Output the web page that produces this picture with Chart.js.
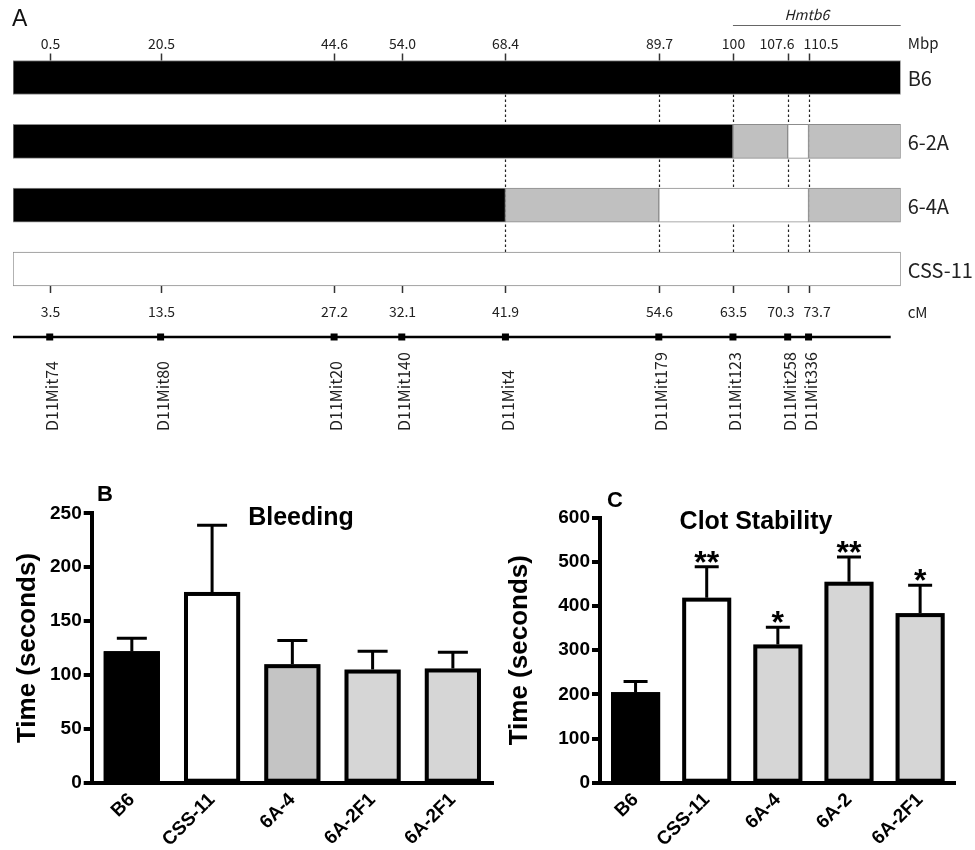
<!DOCTYPE html>
<html lang="en">
<head>
<meta charset="UTF-8">
<title>Hmtb6 congenic mapping - bleeding and clot stability</title>
<script src="https://cdn.jsdelivr.net/npm/chart.js"></script>
<style>
    * { margin: 0; padding: 0; box-sizing: border-box; }
    body { background: #fff; width: 975px; height: 850px; position: relative; overflow: hidden; }
    canvas { position: absolute; }
    #mapChart { left: 0; top: 0; }
    #bleedChart { left: 0; top: 460px; }
    #clotChart { left: 490px; top: 460px; }
</style>
</head>
<body>
<canvas id="mapChart" width="975" height="445"></canvas>
<canvas id="bleedChart" width="500" height="390"></canvas>
<canvas id="clotChart" width="485" height="390"></canvas>

<script>
// ---- Panel A: congenic strains along chromosome 11 ----
const strains = ['B6', '6-2A', '6-4A', 'CSS-11'];
const chrLength = 123.3;   // Mbp, right end of the drawn chromosome
// breakpoints (Mbp) and origin of each segment: B = B6, A = A/J, H = crossover interval
const breaksB6 = [0, 123.3];
const originB6 = ['B'];
const breaks62A = [0, 100, 107.6, 110.5, 123.3];
const origin62A = ['B', 'H', 'A', 'H'];
const breaks64A = [0, 68.4, 89.7, 110.5, 123.3];
const origin64A = ['B', 'H', 'A', 'H'];
const breaksCSS = [0, 123.3];
const originCSS = ['A'];

const markers = ['D11Mit74', 'D11Mit80', 'D11Mit20', 'D11Mit140', 'D11Mit4', 'D11Mit179', 'D11Mit123', 'D11Mit258', 'D11Mit336'];
const mbpLabels = ['0.5', '20.5', '44.6', '54.0', '68.4', '89.7', '100', '107.6', '110.5'];
const cmLabels = ['3.5', '13.5', '27.2', '32.1', '41.9', '54.6', '63.5', '70.3', '73.7'];
// where each marker sits on the drawn Mbp axis (the 0.5 marker is pulled in from the end in the figure)
const markerMbp = [5.1, 20.5, 44.6, 54.0, 68.4, 89.7, 100, 107.6, 110.5];
const dottedFrom = 4;      // D11Mit4 onwards get dotted guide lines
const hmtb6Start = 100;

// ---- Panel B: bleeding ----
const bleedGroups = ['B6', 'CSS-11', '6A-4', '6A-2F1', '6A-2F1'];
const bleedMean = [122, 177, 110, 105, 106];
const bleedUpper = [134, 239, 132, 122, 121];
const bleedTicks = [0, 50, 100, 150, 200, 250];

// ---- Panel C: clot stability ----
const clotGroups = ['B6', 'CSS-11', '6A-4', '6A-2', '6A-2F1'];
const clotMean = [205, 419, 313, 455, 384];
const clotUpper = [229, 489, 352, 511, 447];
const clotTicks = [0, 100, 200, 300, 400, 500, 600];
const clotStars = ['', '**', '*', '**', '*'];

const mapFont = '"Noto Sans CJK JP", "Noto Sans", sans-serif';
const prismFont = '"Liberation Sans", Arial, sans-serif';

// floating bar segments, one dataset per segment slot
const fillFor = { B: '#000000', H: '#c0c0c0', A: '#ffffff' };
const rows = [[breaksB6, originB6], [breaks62A, origin62A], [breaks64A, origin64A], [breaksCSS, originCSS]];
const nSeg = Math.max(...rows.map(r => r[1].length));
const mapDatasets = [];
for (let k = 0; k < nSeg; k++) {
    mapDatasets.push({
        data: rows.map(([br, or]) => k < or.length ? [br[k], br[k + 1]] : null),
        backgroundColor: rows.map(([br, or]) => k < or.length ? fillFor[or[k]] : 'transparent'),
        borderColor: '#8c8c8c',
        borderWidth: 1,
        borderSkipped: false,
        barThickness: 34,
        grouped: false
    });
}

const BAR_HALF = 17;

// spread centred labels that would collide
function spreadLabels(ctx, texts, centers, gap) {
    const c = centers.slice();
    const w = texts.map(t => ctx.measureText(t).width);
    for (let i = 1; i < c.length; i++) {
        const overlap = (c[i - 1] + w[i - 1] / 2 + gap) - (c[i] - w[i] / 2);
        if (overlap > 0) {
            c[i - 1] -= overlap / 2;
            c[i] += overlap / 2;
        }
    }
    return c;
}

const mapDecor = {
    id: 'mapDecor',
    beforeDatasetsDraw(chart) {
        const { ctx } = chart;
        const xs = chart.scales.x, ys = chart.scales.y;
        const top = ys.getPixelForValue(0) + BAR_HALF;
        const bottom = ys.getPixelForValue(strains.length - 1) - BAR_HALF;
        ctx.save();
        ctx.strokeStyle = '#222';
        ctx.lineWidth = 1.2;
        ctx.setLineDash([2.5, 2.5]);
        markerMbp.slice(dottedFrom).forEach(v => {
            const px = Math.round(xs.getPixelForValue(v)) + 0.5;
            ctx.beginPath();
            ctx.moveTo(px, top);
            ctx.lineTo(px, bottom);
            ctx.stroke();
        });
        ctx.restore();
    },
    afterDatasetsDraw(chart) {
        const { ctx, chartArea } = chart;
        const xs = chart.scales.x, ys = chart.scales.y;
        const yTop = ys.getPixelForValue(0) - BAR_HALF;
        const yBot = ys.getPixelForValue(strains.length - 1) + BAR_HALF;
        const labelX = chartArea.right + 7;
        const tickX = markerMbp.map(v => Math.round(xs.getPixelForValue(v)) + 0.5);
        ctx.save();
        ctx.fillStyle = '#222';
        ctx.strokeStyle = '#333';
        ctx.lineWidth = 1.5;

        // Mbp (top) and cM (bottom) ticks and labels
        ctx.font = '14px ' + mapFont;
        ctx.textAlign = 'center';
        ctx.textBaseline = 'middle';
        const mbpX = spreadLabels(ctx, mbpLabels, tickX, 9);
        const cmX = spreadLabels(ctx, cmLabels, tickX, 9);
        tickX.forEach((px, i) => {
            ctx.beginPath(); ctx.moveTo(px, yTop - 7); ctx.lineTo(px, yTop); ctx.stroke();
            ctx.fillText(mbpLabels[i], mbpX[i], yTop - 17);
            ctx.beginPath(); ctx.moveTo(px, yBot); ctx.lineTo(px, yBot + 7); ctx.stroke();
            ctx.fillText(cmLabels[i], cmX[i], yBot + 26);
        });
        ctx.textAlign = 'left';
        ctx.font = '15px ' + mapFont;
        ctx.fillText('Mbp', labelX, yTop - 17);
        ctx.fillText('cM', labelX, yBot + 26);

        // Hmtb6 interval
        const hx = xs.getPixelForValue(hmtb6Start);
        ctx.lineWidth = 1;
        ctx.strokeStyle = '#666';
        ctx.beginPath(); ctx.moveTo(hx, yTop - 35); ctx.lineTo(chartArea.right, yTop - 35); ctx.stroke();
        ctx.font = 'italic 14px ' + mapFont;
        ctx.textAlign = 'center';
        ctx.fillText('Hmtb6', (hx + chartArea.right) / 2 - 10, yTop - 46);

        // strain names
        ctx.font = '20px ' + mapFont;
        ctx.textAlign = 'left';
        strains.forEach((s, i) => ctx.fillText(s, labelX, ys.getPixelForValue(i) + 1));

        // chromosome line with markers
        const lineY = yBot + 51;
        ctx.strokeStyle = '#000';
        ctx.lineWidth = 2.5;
        ctx.beginPath(); ctx.moveTo(chartArea.left, lineY); ctx.lineTo(chartArea.right - 10, lineY); ctx.stroke();
        ctx.fillStyle = '#000';
        markerMbp.forEach(v => {
            const px = xs.getPixelForValue(v);
            ctx.fillRect(px - 3.5, lineY - 3.5, 7, 7);
        });

        // marker names, reading upwards
        ctx.fillStyle = '#222';
        ctx.font = '16px ' + mapFont;
        ctx.textAlign = 'left';
        ctx.textBaseline = 'middle';
        markerMbp.forEach((v, i) => {
            ctx.save();
            ctx.translate(xs.getPixelForValue(v) + 2, yBot + 145);
            ctx.rotate(-Math.PI / 2);
            ctx.fillText(markers[i], 0, 0);
            ctx.restore();
        });

        // panel letter
        ctx.fillStyle = '#111';
        ctx.font = '23px "Liberation Sans", Arial, sans-serif';
        ctx.fillText('A', 12, 20);
        ctx.restore();
    }
};

new Chart(document.getElementById('mapChart'), {
    type: 'bar',
    data: { labels: strains, datasets: mapDatasets },
    options: {
        indexAxis: 'y',
        responsive: false,
        animation: false,
        layout: { padding: { left: 13, right: 74.3, top: 45.6, bottom: 144.1 } },
        scales: {
            x: { type: 'linear', min: 0, max: chrLength, display: false },
            y: { type: 'category', display: false, offset: true }
        },
        plugins: { legend: { display: false }, tooltip: { enabled: false } }
    },
    plugins: [mapDecor]
});

// bar outlines, error bars, significance stars, title and panel letter
const barExtras = {
    id: 'barExtras',
    afterDatasetsDraw(chart, args, opts) {
        const { ctx } = chart;
        const ys = chart.scales.y;
        ctx.save();
        ctx.strokeStyle = '#000';
        ctx.fillStyle = '#000';
        chart.getDatasetMeta(0).data.forEach((bar, i) => {
            const { x, y, base, width } = bar.getProps(['x', 'y', 'base', 'width'], true);
            ctx.lineWidth = 4;
            ctx.strokeRect(x - width / 2 + 2, y + 2, width - 4, base - y - 2);

            const top = ys.getPixelForValue(opts.upper[i]);
            ctx.lineWidth = 3;
            ctx.beginPath();
            ctx.moveTo(x, y);
            ctx.lineTo(x, top);
            ctx.moveTo(x - opts.cap / 2, top);
            ctx.lineTo(x + opts.cap / 2, top);
            ctx.stroke();
            if (opts.stars && opts.stars[i]) {
                ctx.font = 'bold 32px ' + prismFont;
                ctx.textAlign = 'center';
                ctx.textBaseline = 'alphabetic';
                ctx.fillText(opts.stars[i], x, top + 6);
            }
        });
        ctx.textAlign = 'center';
        ctx.textBaseline = 'middle';
        ctx.font = 'bold 25px ' + prismFont;
        ctx.fillText(opts.title, opts.titleX, opts.titleY);
        ctx.font = 'bold 22px ' + prismFont;
        ctx.fillText(opts.letter, opts.letterX, opts.letterY);
        ctx.restore();
    }
};

function makePanel(id, cfg) {
    return new Chart(document.getElementById(id), {
        type: 'bar',
        data: {
            labels: cfg.groups,
            datasets: [{
                data: cfg.means,
                backgroundColor: cfg.colors,
                borderWidth: 0,
                categoryPercentage: 1,
                barPercentage: cfg.barPct
            }]
        },
        options: {
            responsive: false,
            animation: false,
            layout: { autoPadding: false, padding: { left: 0, right: cfg.padRight, top: cfg.padTop, bottom: 0 } },
            scales: {
                x: {
                    grid: { display: false, drawTicks: false },
                    border: { display: true, color: '#000', width: 4, z: 1 },
                    ticks: {
                        color: '#000', font: { family: prismFont, size: 19, weight: 'bold' },
                        maxRotation: 45, minRotation: 45, padding: 6
                    },
                    afterFit: s => { s.height = 67.3; }
                },
                y: {
                    min: 0, max: cfg.ticks[cfg.ticks.length - 1],
                    afterBuildTicks: s => { s.ticks = cfg.ticks.map(v => ({ value: v })); },
                    grid: { display: true, drawOnChartArea: false, drawTicks: true, tickLength: 8, lineWidth: 4, color: '#000' },
                    border: { display: true, color: '#000', width: 4 },
                    ticks: { color: '#000', padding: 2, font: { family: prismFont, size: 19, weight: 'bold' } },
                    title: {
                        display: true, text: 'Time (seconds)', color: '#000',
                        font: { family: prismFont, size: 26, weight: 'bold' },
                        padding: { top: cfg.titlePad, bottom: 0 }
                    },
                    afterFit: s => { s.width = cfg.axisWidth; }
                }
            },
            plugins: {
                legend: { display: false },
                tooltip: { enabled: false },
                barExtras: cfg.extras
            }
        },
        plugins: [barExtras]
    });
}

makePanel('bleedChart', {
    groups: bleedGroups, means: bleedMean, ticks: bleedTicks,
    colors: ['#000000', '#ffffff', '#c4c4c4', '#d6d6d6', '#d6d6d6'],
    barPct: 0.7, padRight: 7, padTop: 53.3, titlePad: 12, axisWidth: 91.7,
    extras: { upper: bleedUpper, cap: 30, title: 'Bleeding', titleX: 301, titleY: 58, letter: 'B', letterX: 105, letterY: 35 }
});

makePanel('clotChart', {
    groups: clotGroups, means: clotMean, ticks: clotTicks,
    colors: ['#000000', '#ffffff', '#d6d6d6', '#d6d6d6', '#d6d6d6'],
    barPct: 0.69, padRight: 19.3, padTop: 57.7, titlePad: 14, axisWidth: 110,
    extras: { upper: clotUpper, cap: 24, stars: clotStars, title: 'Clot Stability', titleX: 266, titleY: 62, letter: 'C', letterX: 125, letterY: 41 }
});
</script>
</body>
</html>
